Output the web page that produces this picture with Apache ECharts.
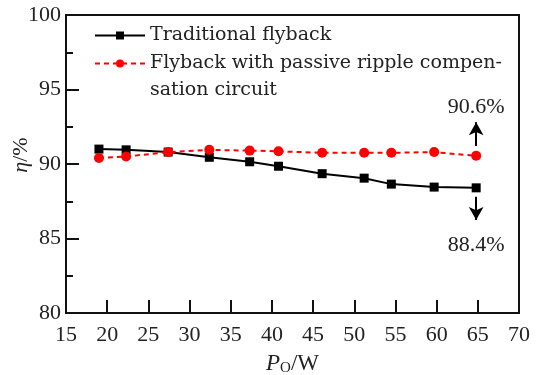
<!DOCTYPE html>
<html>
<head>
<meta charset="utf-8">
<script src="https://cdn.jsdelivr.net/npm/echarts@6/dist/echarts.min.js"></script>
<style>
  html, body { margin: 0; padding: 0; background: #fff; }
  #chart { width: 546px; height: 375px; }
</style>
</head>
<body>
<div id="chart"></div>
<script>
// 输出功率 (W)
const powerW = [19.0, 22.3, 27.4, 32.4, 37.3, 40.8, 46.1, 51.2, 54.5, 59.7, 64.8]
// 效率 (%)
const traditional = [91.0, 90.95, 90.8, 90.45, 90.15, 89.85, 89.35, 89.05, 88.65, 88.45, 88.4]
const compensated = [90.4, 90.5, 90.8, 90.95, 90.9, 90.85, 90.75, 90.75, 90.75, 90.8, 90.55]
const seriesNames = ['Traditional flyback', 'Flyback with passive ripple compensation circuit']
// 末端标注
const annoText = ['90.6%', '88.4%']
const annoUp = [91.2, 92.8]
const annoDown = [87.8, 86.25]

const FONT = '"Liberation Serif", "Times New Roman", serif'
const LEGEND_FONT = '"DejaVu Serif", serif'
const last = powerW.length - 1

const toPairs = ys => powerW.map((x, i) => [x, ys[i]])

const chart = echarts.init(document.getElementById('chart'), null, { renderer: 'canvas' })

const option = {
  backgroundColor: '#fff',
  animation: false,
  textStyle: { fontFamily: FONT, color: '#1a1a1a' },
  grid: {
    left: 66,
    right: 27,
    top: 15,
    bottom: 62,
    containLabel: false,
    outerBoundsMode: 'none',
    show: true,
    borderColor: '#111',
    borderWidth: 2
  },
  // 图例：第二项两行，首行前加空行让图标对齐第一行
  legend: {
    orient: 'vertical',
    left: 94,
    top: 22,
    padding: 0,
    itemWidth: 50,
    itemHeight: 10,
    itemGap: -26,
    textStyle: { fontFamily: LEGEND_FONT, fontSize: 19, color: '#222', lineHeight: 27 },
    formatter: name =>
      name === seriesNames[1] ? '\nFlyback with passive ripple compen-\nsation circuit' : name,
    data: [{ name: seriesNames[0] }, { name: seriesNames[1] }]
  },
  xAxis: {
    type: 'value',
    min: 15,
    max: 70,
    interval: 5,
    name: '{i|P}{s|O}/W',
    nameLocation: 'middle',
    nameMoveOverlap: false,
    nameGap: 38,
    nameTextStyle: {
      fontFamily: FONT,
      fontSize: 23,
      color: '#222',
      rich: {
        i: { fontFamily: FONT, fontSize: 23, fontStyle: 'italic', color: '#222' },
        s: { fontFamily: FONT, fontSize: 15, color: '#222', verticalAlign: 'bottom', padding: [10, 0, 0, 0] }
      }
    },
    axisLine: { onZero: false, lineStyle: { color: '#111', width: 2 } },
    axisTick: { inside: true, length: 13, lineStyle: { color: '#111', width: 2 } },
    axisLabel: { fontFamily: FONT, fontSize: 22, color: '#222', margin: 11 },
    splitLine: { show: false }
  },
  yAxis: {
    type: 'value',
    min: 80,
    max: 100,
    interval: 5,
    name: '{i|η}/%',
    nameLocation: 'middle',
    nameMoveOverlap: false,
    nameGap: 34,
    nameRotate: 90,
    nameTextStyle: {
      fontFamily: FONT,
      fontSize: 22,
      color: '#222',
      padding: [0, 0, 0, 18],
      rich: {
        i: { fontFamily: FONT, fontSize: 22, fontStyle: 'italic', color: '#222' }
      }
    },
    axisLine: { lineStyle: { color: '#111', width: 2 } },
    axisTick: { inside: true, length: 13, lineStyle: { color: '#111', width: 2 } },
    minorTick: { show: true, splitNumber: 2, length: 7, lineStyle: { color: '#111', width: 2 } },
    axisLabel: { fontFamily: FONT, fontSize: 22, color: '#222', margin: 5 },
    splitLine: { show: false }
  },
  series: [
    {
      name: seriesNames[0],
      type: 'line',
      data: toPairs(traditional),
      symbol: 'rect',
      symbolSize: 9,
      itemStyle: { color: '#000' },
      lineStyle: { color: '#000', width: 2 },
      markLine: {
        silent: true,
        symbol: ['none', 'arrow'],
        symbolSize: [11, 13],
        lineStyle: { color: '#000', width: 2, type: 'solid' },
        label: {
          show: true,
          position: 'end',
          distance: 14,
          formatter: annoText[1],
          fontFamily: FONT,
          fontSize: 22,
          color: '#222'
        },
        data: [[{ coord: [powerW[last], annoDown[0]] }, { coord: [powerW[last], annoDown[1]] }]]
      }
    },
    {
      name: seriesNames[1],
      type: 'line',
      data: toPairs(compensated),
      symbol: 'circle',
      symbolSize: 10,
      itemStyle: { color: '#ff0000' },
      lineStyle: { color: '#ff0000', width: 2, type: [5, 4] },
      markLine: {
        silent: true,
        symbol: ['none', 'arrow'],
        symbolSize: [11, 13],
        lineStyle: { color: '#000', width: 2, type: 'solid' },
        label: {
          show: true,
          position: 'end',
          distance: 4,
          formatter: annoText[0],
          fontFamily: FONT,
          fontSize: 22,
          color: '#222'
        },
        data: [[{ coord: [powerW[last], annoUp[0]] }, { coord: [powerW[last], annoUp[1]] }]]
      }
    }
  ]
}

chart.setOption(option)
</script>
</body>
</html>
